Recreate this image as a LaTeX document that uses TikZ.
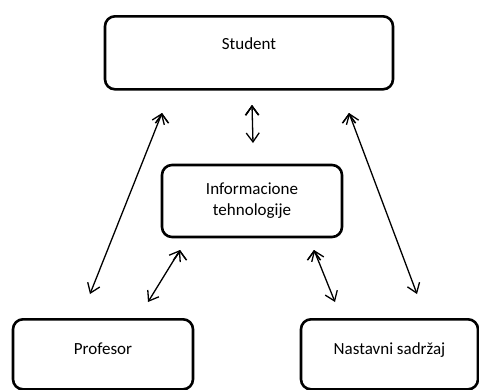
\documentclass[tikz,border=0pt]{standalone}
\usepackage{fontspec}
\setmainfont{Carlito}
\usetikzlibrary{arrows.meta}
\begin{document}
\begin{tikzpicture}[x=1pt,y=-1pt]
\tikzstyle{box} = [draw,line width=2.6pt,rounded corners=10pt,inner sep=0pt,font=\fontsize{17}{21}\selectfont];
\tikzstyle{arr} = [line width=1.3pt,{Straight Barb[length=9pt,width=13pt]}-{Straight Barb[length=9pt,width=13pt]}];
\useasboundingbox (0,0) rectangle (479,389);
\node [box,anchor=north,minimum width=288pt,text height=33pt,text depth=40pt] (v1) at (249,15) {Student};
\node [box,minimum width=180pt,minimum height=72pt,align=center] (v2) at (252,201) {Informacione\\tehnologije};
\node [box,anchor=north,minimum width=180pt,text height=35pt,text depth=35pt] (v3) at (103,318) {Profesor};
\node [box,anchor=north,minimum width=177pt,text height=35pt,text depth=35pt] (v4) at (389.5,318) {Nastavni sadržaj};

\coordinate (c1) at (252,105);
\coordinate (c2) at (253,143);
\coordinate (c3) at (162,113);
\coordinate (c4) at (90,294);
\coordinate (c5) at (349,113);
\coordinate (c6) at (417,294);
\coordinate (c7) at (180,250);
\coordinate (c8) at (148,302);
\coordinate (c9) at (314,250);
\coordinate (c10) at (335,302);
\draw [arr] (c1) edge (c2);
\draw [arr] (c3) edge (c4);
\draw [arr] (c5) edge (c6);
\draw [arr] (c7) edge (c8);
\draw [arr] (c9) edge (c10);
\end{tikzpicture}
\end{document}
